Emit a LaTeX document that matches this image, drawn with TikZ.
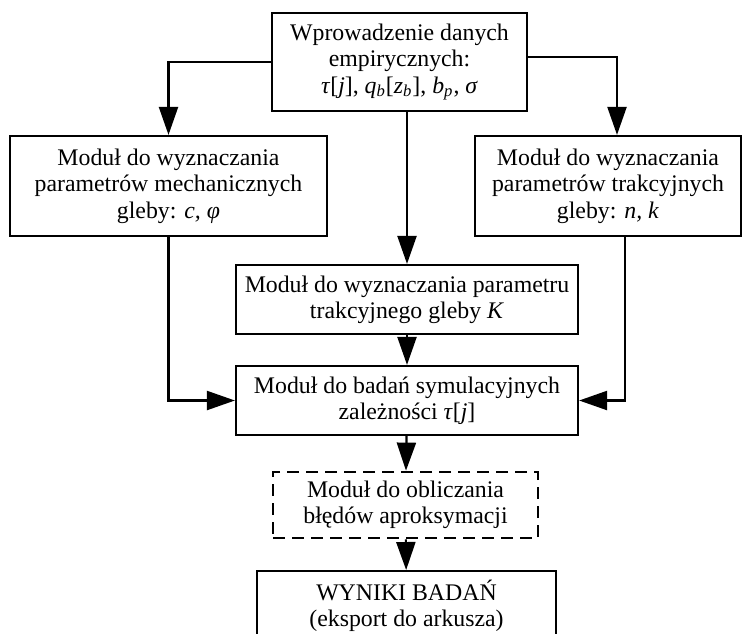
\documentclass[tikz,border=0pt]{standalone}
\usepackage{fontspec}
\setmainfont{Liberation Serif}
\usetikzlibrary{arrows.meta}

\begin{document}
\begin{tikzpicture}[x=0.5pt, y=-0.5pt,
    box/.style={draw, line width=1.1pt, align=center, inner sep=0pt, font=\fontsize{11.9}{13.2}\selectfont},
    dashbox/.style={box, dash pattern=on 6pt off 3.5pt, line width=1.4pt},
    arr/.style={line width=1.1pt, -{Triangle[length=14pt, width=9.5pt]}}]
    \useasboundingbox (0,0) rectangle (742,633);

    % Input data
    \node[box, minimum width=127.5pt, minimum height=49pt] (inp) at (399.5, 62)
        {Wprowadzenie danych\\ empirycznych:\\ \textit{τ}[\textit{j}], \textit{q}\textsubscript{\textit{b}}[\textit{z}\textsubscript{\textit{b}}], \textit{b}\textsubscript{\textit{p}}, \textit{σ}};

    % Modules for soil parameters
    \node[box, minimum width=158.5pt, minimum height=50pt] (mech) at (168.5, 186)
        {Moduł do wyznaczania\\ parametrów mechanicznych\\ gleby: \textit{c, φ}};
    \node[box, minimum width=133pt, minimum height=50pt] (trak) at (608, 186)
        {Moduł do wyznaczania\\ parametrów trakcyjnych\\ gleby: \textit{n, k}};
    \node[box, minimum width=171pt, minimum height=34.5pt] (par) at (407, 299.5)
        {Moduł do wyznaczania parametru\\ trakcyjnego gleby \textit{K}};

    % Simulation, errors and results
    \node[box, minimum width=171pt, minimum height=34.5pt] (sim) at (407, 400.5)
        {Moduł do badań symulacyjnych\\ zależności \textit{τ}[\textit{j}]};
    \node[dashbox, minimum width=132.5pt, minimum height=33pt] (err) at (405.5, 505)
        {Moduł do obliczania\\ błędów aproksymacji};
    \node[box, anchor=north, minimum width=149.5pt, minimum height=34.5pt] (res) at (406.5, 570)
        {WYNIKI BADAŃ\\ (eksport do arkusza)};

    % Connections
    \draw[arr] (inp.west) -| (mech.north);
    \draw[arr] ([yshift=2.5pt]inp.east) -| ([xshift=4.5pt]trak.north);
    \draw[arr] (inp.south -| par.north) -- (par.north);
    \draw[arr] (mech.south) |- (sim.west);
    \draw[arr] ([xshift=8.5pt]trak.south) |- (sim.east);
    \draw[arr] (par) -- (sim);
    \draw[arr] (sim) -- (err);
    \draw[arr] (err) -- (res);

\end{tikzpicture}
\end{document}
